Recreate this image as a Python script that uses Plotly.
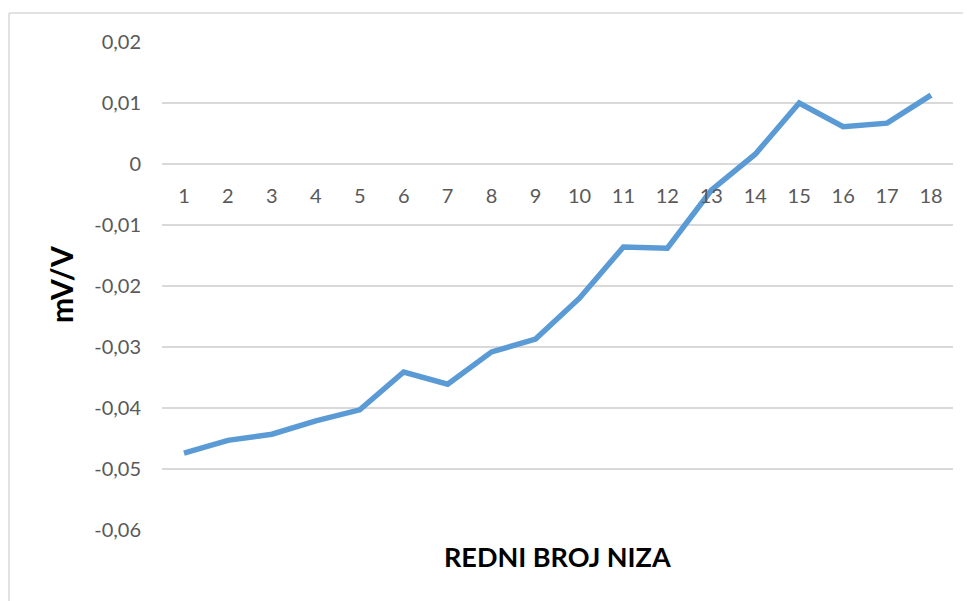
import plotly.graph_objects as go

categories = [str(i) for i in range(1, 19)]
values = [-0.0474, -0.0453, -0.0443, -0.0421, -0.0403, -0.0341, -0.0361, -0.0308,
          -0.0287, -0.0220, -0.0136, -0.0138, -0.0043, 0.0016, 0.0100, 0.0061,
          0.0067, 0.0113]
y_tickvals = [0.02, 0.01, 0, -0.01, -0.02, -0.03, -0.04, -0.05, -0.06]
y_ticktext = ["0,02", "0,01", "0", "-0,01", "-0,02", "-0,03", "-0,04", "-0,05", "-0,06"]
x_title = "REDNI BROJ NIZA"
y_title = "mV/V"

FONT = "Lato, 'Open Sans', sans-serif"
# page has an 8px body margin; figure coordinates are page coordinates - 8
W, H = 963, 593
L, T = 154, 34
pw, ph = 791, 488
R, B = W - L - pw, H - T - ph

fig = go.Figure()
fig.add_trace(go.Scatter(
    x=list(range(len(categories))), y=values, mode="lines",
    line=dict(color="#5B9BD5", width=5.5), hoverinfo="skip", showlegend=False))

ymin, ymax = -0.06, 0.02
zero_pos = (0 - ymin) / (ymax - ymin)

fig.update_layout(
    width=W, height=H,
    margin=dict(l=L, r=R, t=T, b=B, autoexpand=False),
    paper_bgcolor="white", plot_bgcolor="white",
    font=dict(family=FONT, color="#595959", size=20),
    xaxis=dict(
        range=[-0.5, len(categories) - 0.5],
        tickvals=list(range(len(categories))), ticktext=categories,
        anchor="free", position=zero_pos,
        showgrid=False, zeroline=False, showline=False,
        ticks="outside", ticklen=14, tickcolor="rgba(0,0,0,0)",
        tickfont=dict(size=20, color="#595959", family=FONT),
        fixedrange=True),
    yaxis=dict(
        range=[ymin, ymax], tickvals=y_tickvals, ticktext=y_ticktext,
        showgrid=True, gridcolor="#D9D9D9", gridwidth=1.5,
        zeroline=False, showline=False,
        ticks="outside", ticklen=16, tickcolor="rgba(0,0,0,0)",
        tickfont=dict(size=20, color="#595959", family=FONT),
        fixedrange=True),
    annotations=[
        dict(text="<b>" + x_title + "</b>", xref="paper", yref="paper",
             x=0.5, y=0, yshift=-26, xanchor="center", yanchor="middle",
             showarrow=False, font=dict(size=27, color="black", family=FONT)),
        dict(text="<b>" + y_title + "</b>", xref="paper", yref="paper",
             x=0, xshift=-(L - 53), y=0.5, yshift=1, xanchor="center", yanchor="middle",
             textangle=-90, showarrow=False,
             font=dict(size=30, color="black", family=FONT)),
    ],
    shapes=[
        dict(type="line", xref="paper", yref="paper",
             x0=(1 - L) / pw, x1=(W + 5 - L) / pw,
             y0=1 + (T - 5) / ph, y1=1 + (T - 5) / ph,
             line=dict(color="#D9D9D9", width=1.5)),
        dict(type="line", xref="paper", yref="paper",
             x0=(1 - L) / pw, x1=(1 - L) / pw,
             y0=1 + (T - 5) / ph, y1=-(B + 5) / ph,
             line=dict(color="#D9D9D9", width=1.5)),
    ],
)

fig.write_html("out.html")
